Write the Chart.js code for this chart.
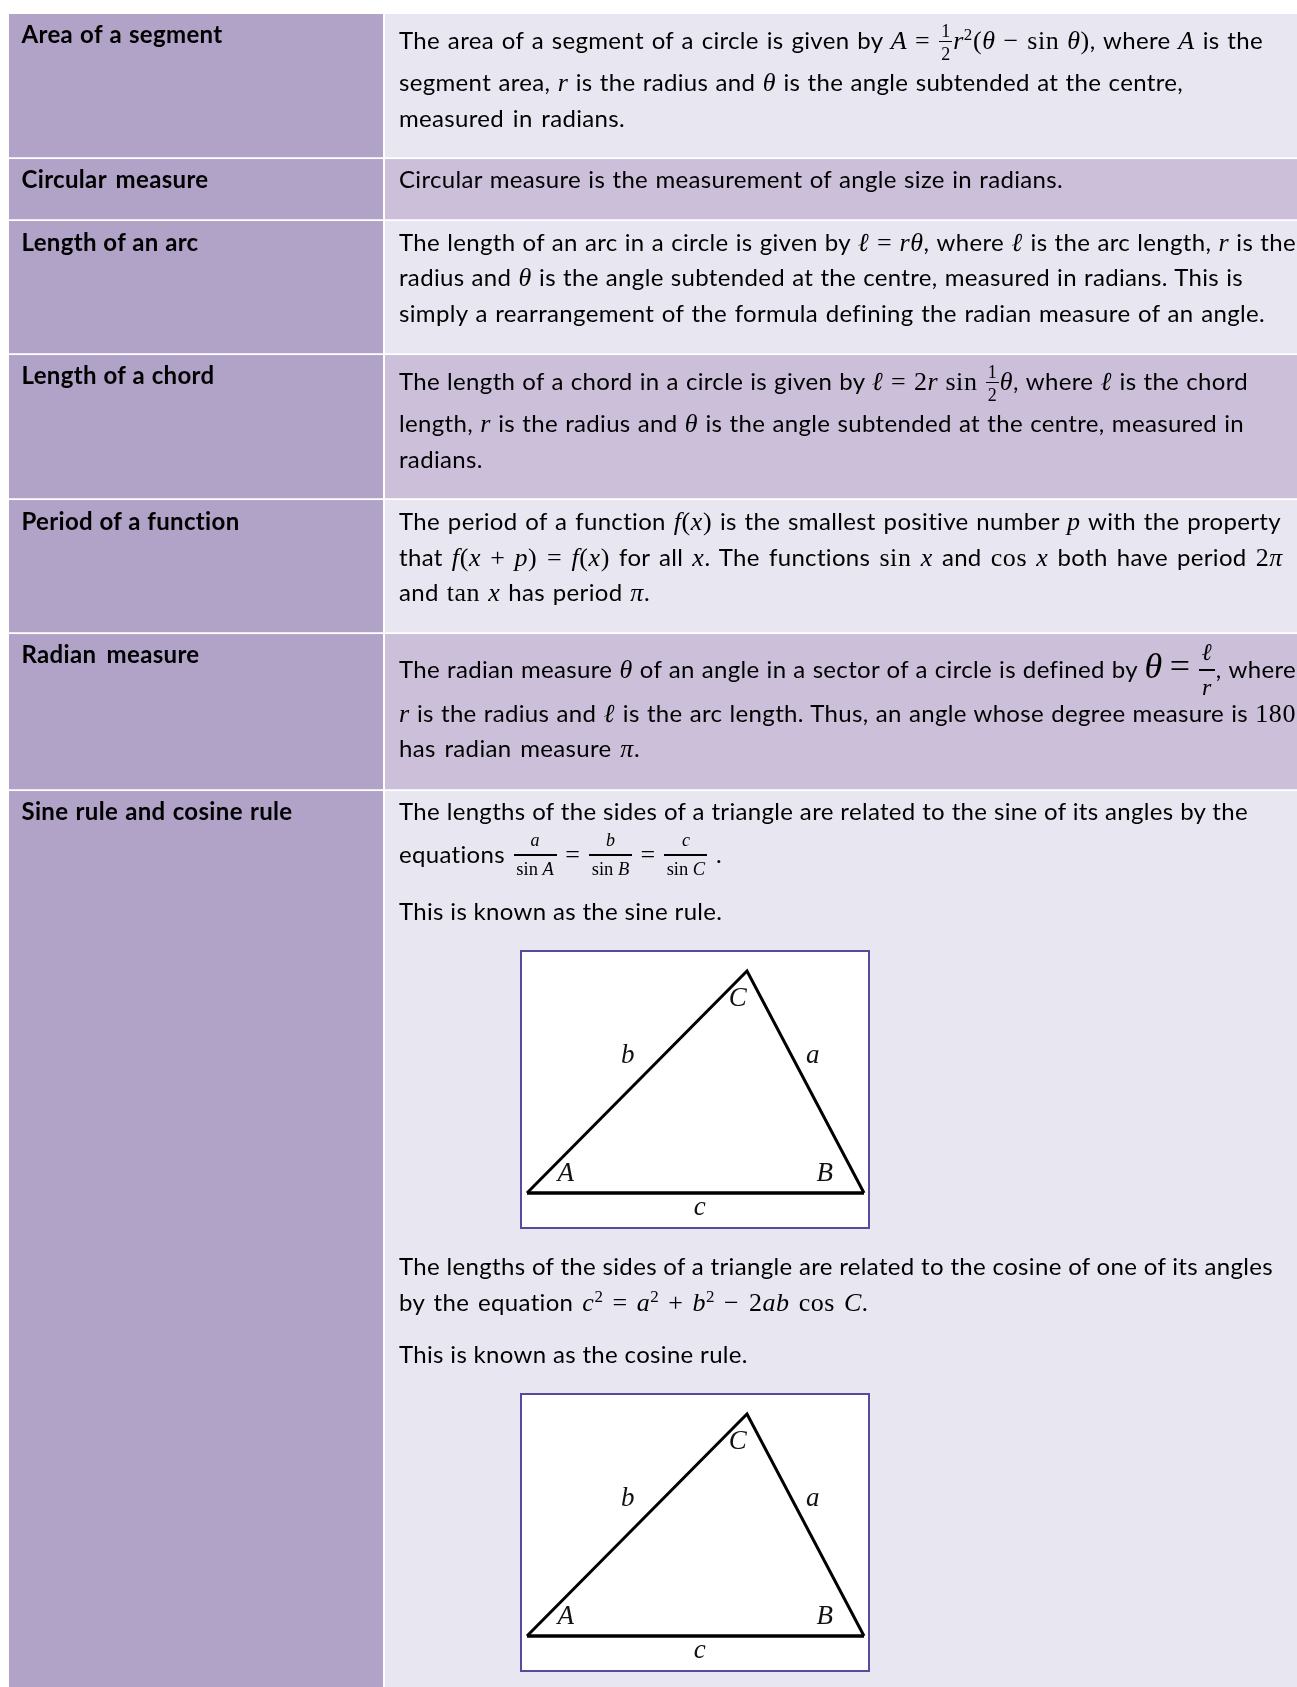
<!DOCTYPE html>
<html>
<head>
<meta charset="utf-8">
<script src="https://cdn.jsdelivr.net/npm/chart.js@4"></script>
<style>
html, body { margin: 0; padding: 0; background: #fff; }
#page { position: relative; width: 1297px; height: 1687px; overflow: hidden; font-family: Lato, sans-serif; font-size: 24px; letter-spacing: 0.33px; color: #000; }
#term-col, #def-col { position: absolute; display: block; top: 14px; }
#term-col { left: 9px; }
#def-col { left: 385px; }
.diagram { position: absolute; left: 520px; width: 346px; height: 275px; border: 2px solid #5a4a9f; background: #fff; }
.diagram canvas { display: block; }
p { position: absolute; margin: 0; line-height: 30px; white-space: nowrap; left: 399px; text-align: justify; text-align-last: justify; }
p.term { left: 21.5px; font-weight: bold; }
i, .m { font-family: "Liberation Serif", "DejaVu Serif", serif; font-size: 26px; letter-spacing: 0.6px; }
i { font-style: italic; }
sup.m { font-size: 17px; line-height: 0; }
.frac { display: inline-block; position: relative; height: 0; margin: 0 1px; }
.frac b { position: absolute; left: 0; right: 0; bottom: 7px; height: 1px; background: #000; }
.frac span { position: absolute; left: 0; right: 0; text-align: center; text-align-last: center; line-height: 1; font-family: "Liberation Serif", serif; letter-spacing: 0; }
.frac .n { bottom: 9px; }
.frac .d { top: -4px; }
.frac.wide b { height: 2px; }
.frac.wide .n { bottom: 14px; }
.frac.wide .d { top: -3px; }
</style>
</head>
<body>
<div id="page">
  <canvas id="term-col" width="374" height="1673"></canvas>
  <canvas id="def-col" width="912" height="1673"></canvas>

  <p class="term" style="top:19px;width:201px">Area of a segment</p>
  <p style="top:25px;width:864px">The area of a segment of a circle is given by <i>A</i> <span class="m">=</span> <span class="frac" style="width:13px"><span class="n" style="font-size:18px">1</span><b></b><span class="d" style="font-size:18px">2</span></span><i>r</i><sup class="m">2</sup><span class="m">(</span><i>θ</i> <span class="m">− sin</span> <i>θ</i><span class="m">)</span>, where <i>A</i> is the</p>
  <p style="top:67px;width:784px">segment area, <i>r</i> is the radius and <i>θ</i> is the angle subtended at the centre,</p>
  <p style="top:103px;width:226px">measured in radians.</p>

  <p class="term" style="top:164px;width:187px">Circular measure</p>
  <p style="top:164px;width:664px">Circular measure is the measurement of angle size in radians.</p>

  <p class="term" style="top:227px;width:177px">Length of an arc</p>
  <p style="top:227px;width:897px">The length of an arc in a circle is given by <i>ℓ</i> <span class="m">=</span> <i>rθ</i>, where <i>ℓ</i> is the arc length, <i>r</i> is the</p>
  <p style="top:262px;width:844px">radius and <i>θ</i> is the angle subtended at the centre, measured in radians. This is</p>
  <p style="top:298px;width:866px">simply a rearrangement of the formula defining the radian measure of an angle.</p>

  <p class="term" style="top:360px;width:193px">Length of a chord</p>
  <p style="top:366px;width:849px">The length of a chord in a circle is given by <i>ℓ</i> <span class="m">= 2</span><i>r</i> <span class="m">sin</span> <span class="frac" style="width:13px"><span class="n" style="font-size:18px">1</span><b></b><span class="d" style="font-size:18px">2</span></span><i>θ</i>, where <i>ℓ</i> is the chord</p>
  <p style="top:408px;width:845px">length, <i>r</i> is the radius and <i>θ</i> is the angle subtended at the centre, measured in</p>
  <p style="top:444px;width:85px">radians.</p>

  <p class="term" style="top:506px;width:218px">Period of a function</p>
  <p style="top:506px;width:882px">The period of a function <i>f</i><span class="m">(</span><i>x</i><span class="m">)</span> is the smallest positive number <i>p</i> with the property</p>
  <p style="top:542px;width:884px">that <i>f</i><span class="m">(</span><i>x</i> <span class="m">+</span> <i>p</i><span class="m">) =</span> <i>f</i><span class="m">(</span><i>x</i><span class="m">)</span> for all <i>x</i>. The functions <span class="m">sin</span> <i>x</i> and <span class="m">cos</span> <i>x</i> both have period <span class="m">2</span><i>π</i></p>
  <p style="top:577px;width:251px">and <span class="m">tan</span> <i>x</i> has period <i>π</i>.</p>

  <p class="term" style="top:639px;width:178px">Radian measure</p>
  <p style="top:651px;width:897px">The radian measure <i>θ</i> of an angle in a sector of a circle is defined by <i style="font-size:36px">θ</i> <span class="m" style="font-size:36px">=</span> <span class="frac wide" style="width:16px"><span class="n" style="font-size:24px;font-style:italic">ℓ</span><b></b><span class="d" style="font-size:24px;font-style:italic">r</span></span>, where</p>
  <p style="top:698px;width:897px"><i>r</i> is the radius and <i>ℓ</i> is the arc length. Thus, an angle whose degree measure is <span class="m">180</span></p>
  <p style="top:733px;width:241px">has radian measure <i>π</i>.</p>

  <p class="term" style="top:796px;width:271px">Sine rule and cosine rule</p>
  <p style="top:796px;width:849px">The lengths of the sides of a triangle are related to the sine of its angles by the</p>
  <p style="top:839px;width:323px">equations <span class="frac wide" style="width:43px"><span class="n" style="font-size:18px;font-style:italic">a</span><b></b><span class="d" style="font-size:18.5px">sin <em>A</em></span></span> <span class="m">=</span> <span class="frac wide" style="width:43px"><span class="n" style="font-size:18px;font-style:italic">b</span><b></b><span class="d" style="font-size:18.5px">sin <em>B</em></span></span> <span class="m">=</span> <span class="frac wide" style="width:43px"><span class="n" style="font-size:18px;font-style:italic">c</span><b></b><span class="d" style="font-size:18.5px">sin <em>C</em></span></span>&nbsp;.</p>
  <p style="top:896px;width:322px">This is known as the sine rule.</p>

  <div class="diagram" style="top:950px"><canvas id="tri-sine" width="346" height="275"></canvas></div>

  <p style="top:1251px;width:874px">The lengths of the sides of a triangle are related to the cosine of one of its angles</p>
  <p style="top:1287px;width:469px">by the equation <i>c</i><sup class="m">2</sup> <span class="m">=</span> <i>a</i><sup class="m">2</sup> <span class="m">+</span> <i>b</i><sup class="m">2</sup> <span class="m">− 2</span><i>ab</i> <span class="m">cos</span> <i>C</i>.</p>
  <p style="top:1339px;width:347px">This is known as the cosine rule.</p>

  <div class="diagram" style="top:1393px"><canvas id="tri-cosine" width="346" height="275"></canvas></div>
</div>

<script>
// table rows, top to bottom: height of each row
const rowHeights = [145, 62, 134, 145, 134, 157, 896]
const termColours = ['#b1a2c7', '#b1a2c7', '#b1a2c7', '#b1a2c7', '#b1a2c7', '#b1a2c7', '#b1a2c7']
const defColours = ['#e8e6f1', '#cbbfd9', '#e8e6f1', '#cbbfd9', '#e8e6f1', '#cbbfd9', '#e8e6f1']

// triangle drawn in both boxes
const triangleX = [5, 342, 225]
const triangleY = [241, 241, 19]
const labelText = ['A', 'B', 'C', 'a', 'b', 'c']
const labelX = [44, 303, 216, 291, 106, 178]
const labelY = [222, 222, 47, 104, 104, 256]

function drawColumn(id, colours) {
    new Chart(document.getElementById(id), {
        type: 'bar',
        data: {
            labels: [''],
            datasets: rowHeights.map((h, i) => ({
                data: [h],
                backgroundColor: colours[i],
                borderColor: '#ffffff',
                borderWidth: i < rowHeights.length - 1 ? { bottom: 2 } : 0,
                borderSkipped: false,
                barPercentage: 1,
                categoryPercentage: 1,
            })),
        },
        options: {
            responsive: false,
            animation: false,
            plugins: { legend: { display: false }, tooltip: { enabled: false } },
            scales: {
                x: { display: false, stacked: true },
                y: { display: false, stacked: true, reverse: true, min: 0, max: rowHeights.reduce((a, b) => a + b, 0) },
            },
        },
    })
}

// puts the vertex and side letters on the chart
const letterPlugin = {
    id: 'letters',
    afterDatasetsDraw(chart) {
        const ctx = chart.ctx
        ctx.save()
        ctx.font = 'italic 27px "Liberation Serif"'
        ctx.fillStyle = '#111'
        ctx.textAlign = 'center'
        ctx.textBaseline = 'middle'
        labelText.forEach((t, i) => {
            ctx.fillText(t, chart.scales.x.getPixelForValue(labelX[i]), chart.scales.y.getPixelForValue(labelY[i]))
        })
        ctx.restore()
    },
}

function drawTriangle(id) {
    const corners = triangleX.map((x, i) => ({ x: x, y: triangleY[i] }))
    new Chart(document.getElementById(id), {
        type: 'scatter',
        data: {
            datasets: [
                { data: [corners[0], corners[2], corners[1]], showLine: true, borderColor: '#000', borderWidth: 3, pointRadius: 0 },
                { data: [corners[0], corners[1]], showLine: true, borderColor: '#000', borderWidth: 3.6, pointRadius: 0 },
            ],
        },
        options: {
            responsive: false,
            animation: false,
            plugins: { legend: { display: false }, tooltip: { enabled: false } },
            scales: {
                x: { display: false, min: 0, max: 346 },
                y: { display: false, min: 0, max: 275, reverse: true },
            },
        },
        plugins: [letterPlugin],
    })
}

drawColumn('term-col', termColours)
drawColumn('def-col', defColours)
drawTriangle('tri-sine')
drawTriangle('tri-cosine')
</script>
</body>
</html>
